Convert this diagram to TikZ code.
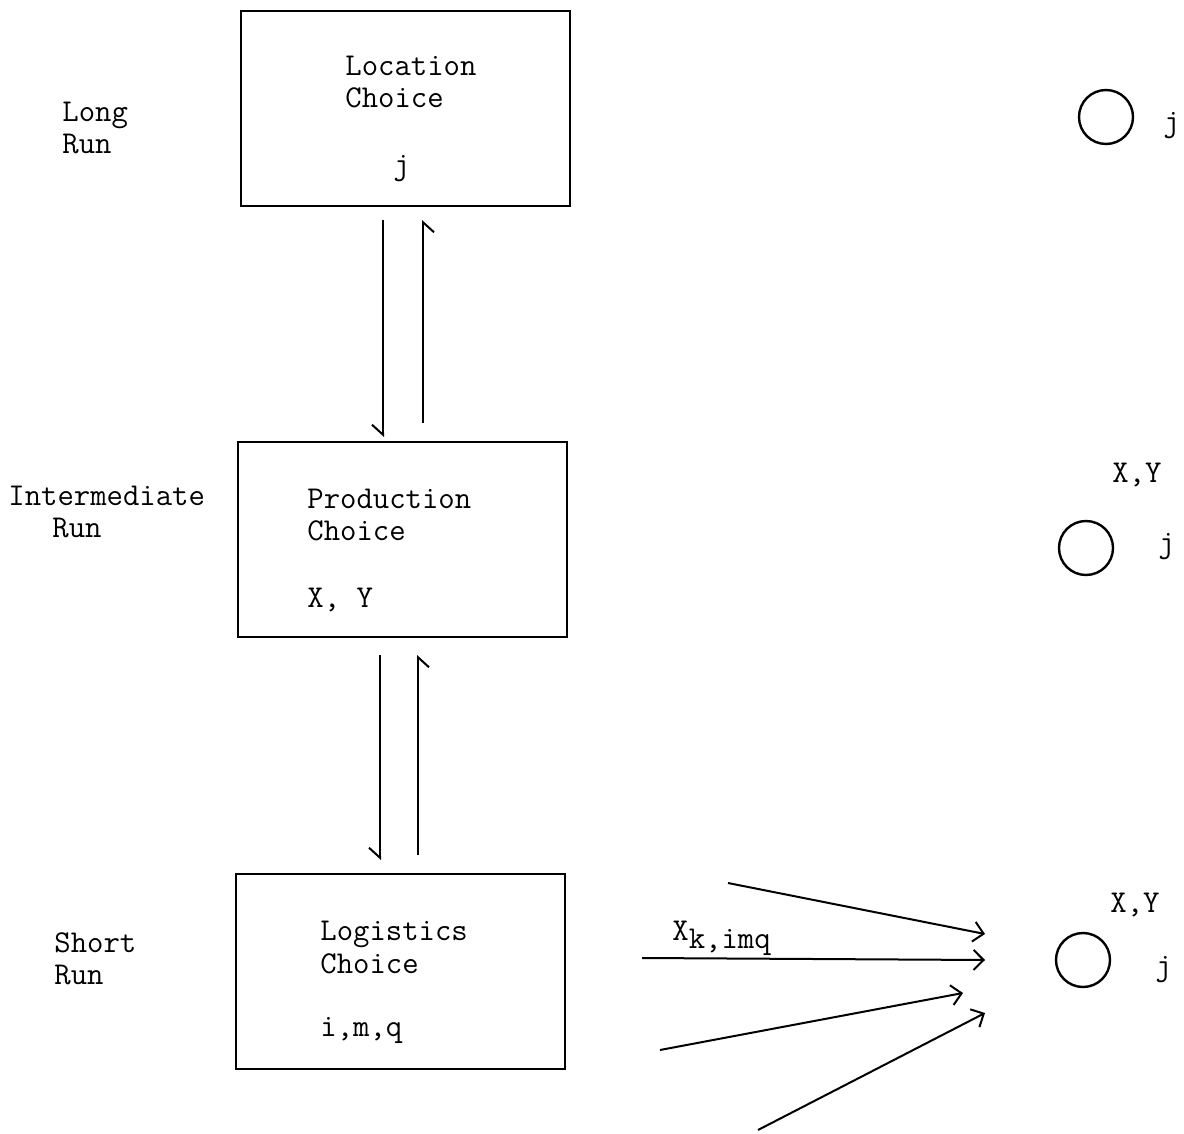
\documentclass[tikz,border=0pt]{standalone}
\usetikzlibrary{arrows.meta}
\begin{document}
\begin{tikzpicture}[x=0.5pt,y=-0.5pt,
  every node/.style={font=\ttfamily\fontsize{15.9}{16}\selectfont, inner sep=0pt},
  lbl/.style={anchor=base west},
  box/.style={draw, line width=1.2pt, minimum width=164.5pt, minimum height=97.5pt, anchor=north west},
  circ/.style={draw, circle, line width=1.2pt, minimum size=27pt},
  harp/.style={line width=1pt, -{Straight Barb[harpoon,swap,length=5pt,width=11pt]}},
  fan/.style={line width=1pt, -{Straight Barb[length=5pt,width=10pt]}}]
\useasboundingbox (0,0) rectangle (1184,1134);
\fill[white] (0,0) rectangle (1184,1134);

% boxes
\node[box] (b1) at (240,10) {};
\node[box] (b2) at (237,441) {};
\node[box] (b3) at (235,873) {};

% box texts
\node[lbl] (loc) at (345,76) {Location};
\node[lbl] (locc) at (345,108) {Choice};
\node[lbl] (locj) at (393,175) {j};
\node[lbl] (pro) at (307,508) {Production};
\node[lbl] (proc) at (307,540) {Choice};
\node[lbl] (proxy) at (307,607) {X, Y};
\node[lbl] (log) at (320,940) {Logistics};
\node[lbl] (logc) at (320,973) {Choice};
\node[lbl] (logi) at (320,1036) {i,m,q};

% left labels
\node[lbl] (long) at (62,122) {Long};
\node[lbl] (longr) at (62,154) {Run};
\node[lbl] (inter) at (8,505) {Intermediate};
\node[lbl] (interr) at (52,537) {Run};
\node[lbl] (short) at (54,952) {Short};
\node[lbl] (shortr) at (54,984) {Run};

% vertical arrows
\coordinate (d1s) at (383,220); \coordinate (d1e) at (383,437);
\coordinate (u1s) at (423,423); \coordinate (u1e) at (423,220);
\coordinate (d2s) at (380,655); \coordinate (d2e) at (380,860);
\coordinate (u2s) at (418,855); \coordinate (u2e) at (418,655);
\draw[harp] (d1s) -- (d1e);
\draw[harp] (u1s) -- (u1e);
\draw[harp] (d2s) -- (d2e);
\draw[harp] (u2s) -- (u2e);

% circles
\node[circ] (c1) at (1106,117) {};
\node[lbl] (c1j) at (1163,132) {j};
\node[circ] (c2) at (1086,548) {};
\node[lbl] (c2xy) at (1112,482) {X,Y};
\node[lbl] (c2j) at (1158,552) {j};
\node[circ] (c3) at (1083,960) {};
\node[lbl] (c3xy) at (1110,912) {X,Y};
\node[lbl] (c3j) at (1155,975) {j};

% fan arrows
\coordinate (s1) at (728,883); \coordinate (t1) at (985,934);
\coordinate (s2) at (642,958); \coordinate (t2) at (985,960);
\coordinate (s3) at (660,1050); \coordinate (t3) at (963,993);
\coordinate (s4) at (758,1130); \coordinate (t4) at (985,1013);
\draw[fan] (s1) -- (t1);
\draw[fan] (s2) -- (t2);
\draw[fan] (s3) -- (t3);
\draw[fan] (s4) -- (t4);
\node[lbl] (xk) at (672,940) {X\raisebox{-4pt}{k,imq}};
\end{tikzpicture}
\end{document}
